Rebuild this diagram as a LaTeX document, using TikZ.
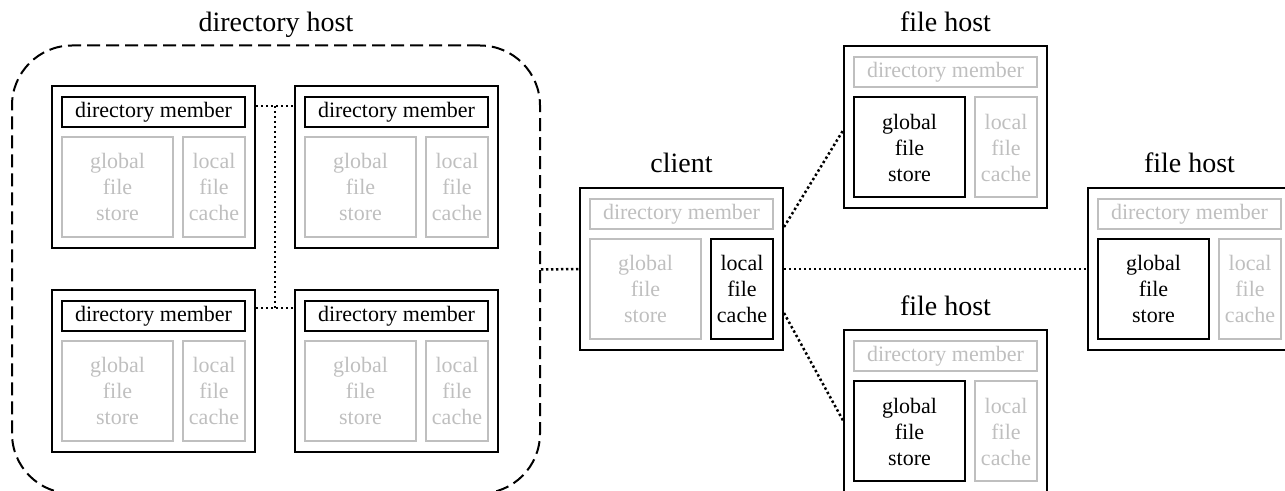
\documentclass[tikz,border=0pt]{standalone}
\usepackage{fontspec}
\setmainfont{Liberation Serif}
\usetikzlibrary{positioning,calc}
\colorlet{offgray}{black!25}
\tikzset{
    host/.style={
        draw,
        line width=1pt,
        minimum width=101.5pt,
        minimum height=81pt,
        inner sep=0pt
    },
    part/.style={
        draw,
        line width=1pt,
        inner sep=0pt,
        align=center,
        font=\fontsize{11}{13}\selectfont
    },
    member/.style={part, minimum width=91.5pt, minimum height=15pt},
    store/.style={part, minimum width=55.5pt, minimum height=50pt},
    cache/.style={part, minimum width=31pt, minimum height=50pt},
    used/.style={draw=black, text=black},
    unused/.style={draw=offgray, text=offgray},
    title/.style={
        anchor=base,
        inner sep=0pt,
        font=\fontsize{14}{16}\selectfont
    },
    group/.style={
        draw,
        line width=1pt,
        dash pattern=on 6.5pt off 3pt,
        rounded corners=30pt,
        minimum width=264pt,
        minimum height=224pt
    },
    link/.style={
        line width=1.25pt,
        dash pattern=on 1.2pt off 1.3pt
    }
}

% the three parts inside a host box
\newcommand{\hostparts}[4]{%
    \node[member, #2, anchor=north] (#1-dm)
        at ([yshift=-5.5pt]#1.north) {directory member};
    \node[store, #3, anchor=north west] (#1-gs)
        at ([xshift=5pt, yshift=-25.5pt]#1.north west) {global\\file\\store};
    \node[cache, #4, anchor=north east] (#1-lc)
        at ([xshift=-5pt, yshift=-25.5pt]#1.north east) {local\\file\\cache};
}

\begin{document}
\begin{tikzpicture}[x=0.5pt, y=-0.5pt]
\useasboundingbox (0,0) rectangle (1285,491);

\node[group] (dirhost) at (276,269.5) {};
\node[title] at ([yshift=6.5pt]dirhost.north) {directory host};

\foreach \m/\x/\y in {m1/153.5/167, m2/396.5/167, m3/153.5/371, m4/396.5/371} {
    \node[host] (\m) at (\x,\y) {};
    \hostparts{\m}{used}{unused}{unused}
}

\node[host] (client) at (681.5,269) {};
\hostparts{client}{unused}{unused}{used}
\node[title] at ([yshift=7pt]client.north) {client};

\node[host] (fhtop) at (945.5,127.5) {};
\hostparts{fhtop}{unused}{used}{unused}
\node[title] at ([yshift=7pt]fhtop.north) {file host};

\node[host] (fhright) at (1189.5,269) {};
\hostparts{fhright}{unused}{used}{unused}
\node[title] at ([yshift=7pt]fhright.north) {file host};

\node[host] (fhbottom) at (945.5,411.5) {};
\hostparts{fhbottom}{unused}{used}{unused}
\node[title] at ([yshift=7pt]fhbottom.north) {file host};

\draw[link] ([yshift=-10.5pt]m1.north east) -- coordinate (mtop) ([yshift=-10.5pt]m2.north west);
\draw[link] ([yshift=-9.5pt]m3.north east) -- coordinate (mbot) ([yshift=-9.5pt]m4.north west);
\draw[link] (mtop) -- (mbot);

\draw[link] (dirhost.east) -- (client.west);
\draw[link] (client.east) -- (fhright.west);
\draw[link] ([yshift=21pt]client.east) -- ([yshift=-1.5pt]fhtop.west);
\draw[link] ([yshift=-22pt]client.east) -- ([yshift=-4.5pt]fhbottom.west);

\end{tikzpicture}
\end{document}
